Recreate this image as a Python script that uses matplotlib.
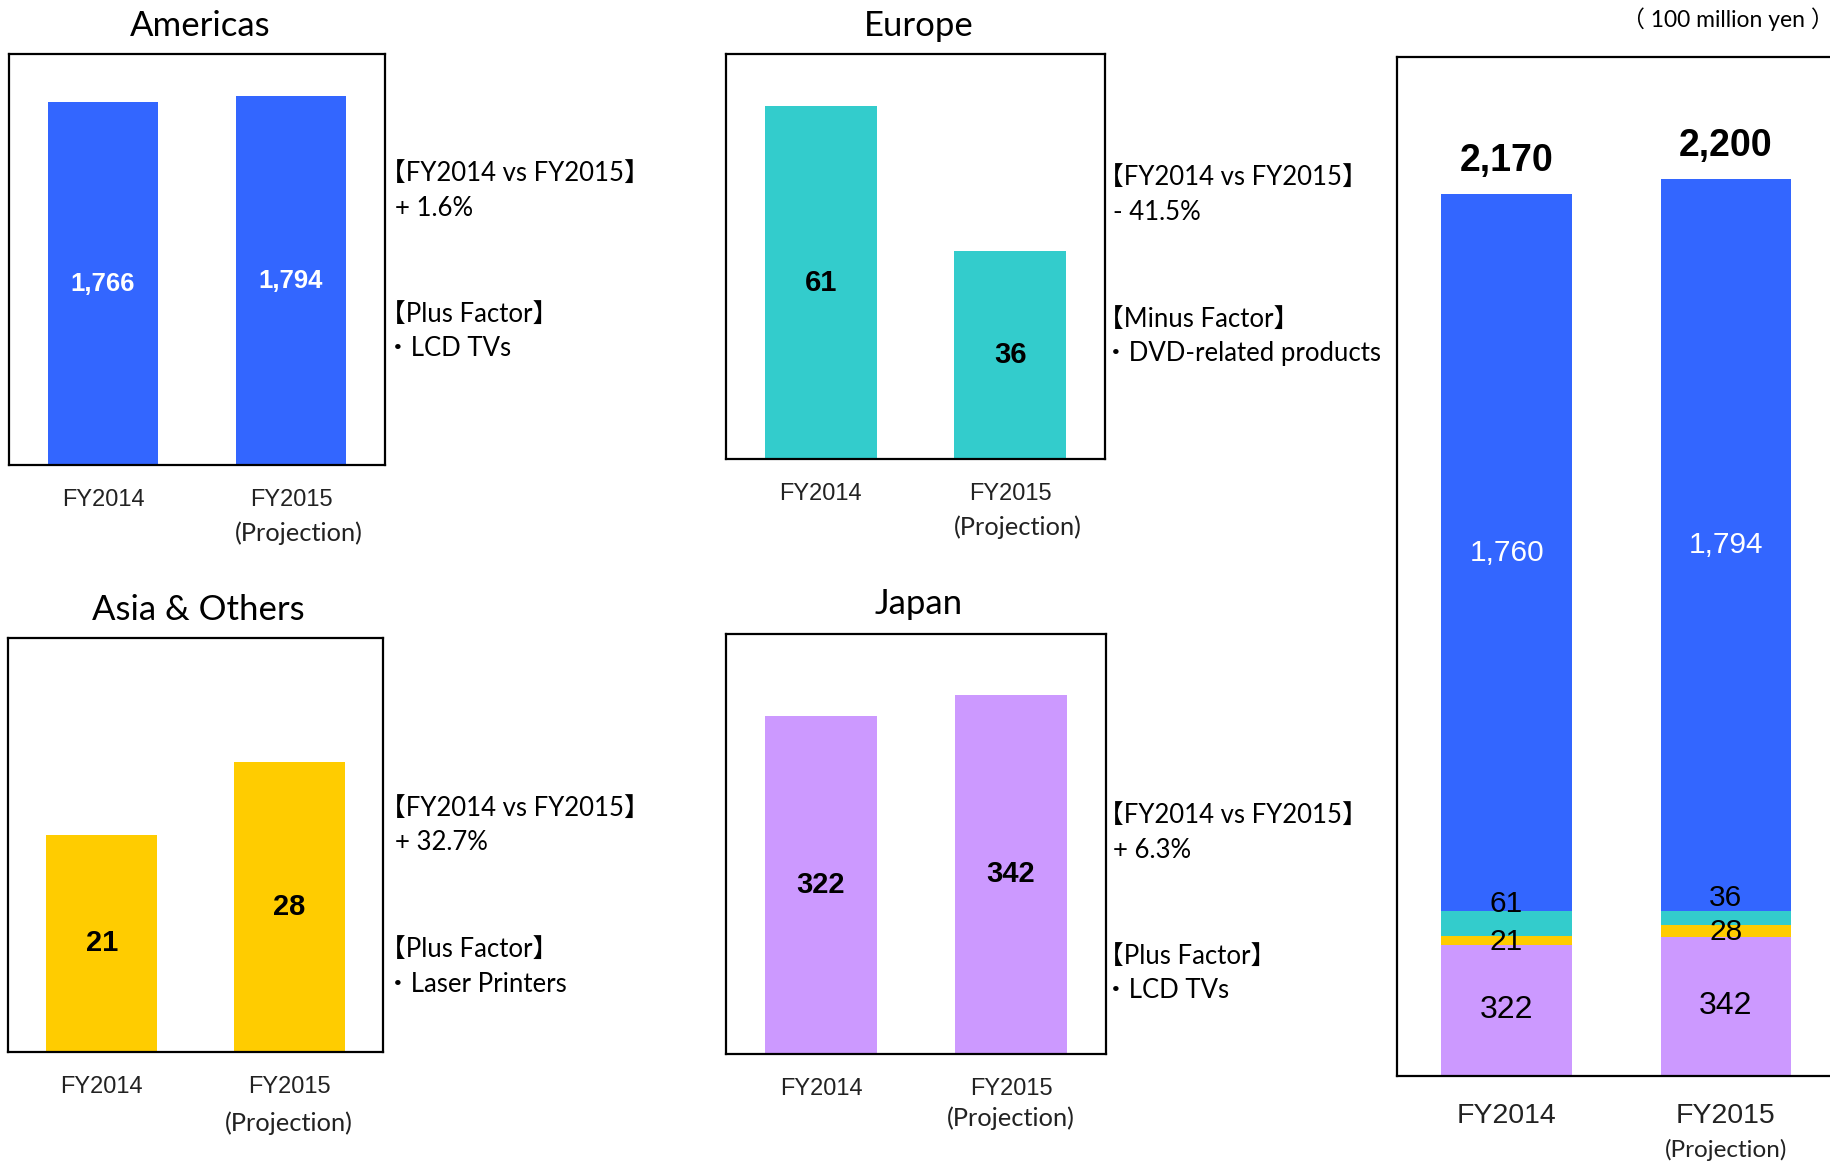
import matplotlib

matplotlib.use("Agg")
import matplotlib.pyplot as plt
from matplotlib.transforms import blended_transform_factory

# Sales by region, 100 million yen
years = ["FY2014", "FY2015"]
americas = [1766, 1794]
europe = [61, 36]
asia = [21, 28]
japan = [322, 342]

# stacked total chart (Americas shown as 1,760 there)
stack_americas = [1760, 1794]
stack_europe = [61, 36]
stack_asia = [21, 28]
stack_japan = [322, 342]
totals = [2170, 2200]

notes = {
    "Americas": ["【FY2014 vs FY2015】", "+ 1.6%", "【Plus Factor】", "・LCD TVs"],
    "Europe": ["【FY2014 vs FY2015】", "- 41.5%", "【Minus Factor】", "・DVD-related products"],
    "Asia & Others": ["【FY2014 vs FY2015】", "+ 32.7%", "【Plus Factor】", "・Laser Printers"],
    "Japan": ["【FY2014 vs FY2015】", "+ 6.3%", "【Plus Factor】", "・LCD TVs"],
}

BLUE = "#3366FF"
TEAL = "#33CCCC"
YELLOW = "#FFCC00"
PURPLE = "#CC99FF"

SANS = ["Lato", "Noto Sans CJK JP", "DejaVu Sans"]
ARIAL = ["Liberation Sans", "DejaVu Sans"]

W, H = 1830, 1163
fig = plt.figure(figsize=(W / 100, H / 100), dpi=100)


def px_axes(x0, y0, x1, y1):
    return fig.add_axes([x0 / W, 1 - y1 / H, (x1 - x0) / W, (y1 - y0) / H])


def fig_text(x, y, s, **kw):
    fig.text(x / W, 1 - y / H, s, **kw)


def frame(ax):
    ax.set_xticks([])
    ax.set_yticks([])
    for sp in ax.spines.values():
        sp.set_linewidth(1.6)
        sp.set_color("black")


def year_labels(ax, y_year, y_proj, year_size=17, proj_size=18.3, proj_dx=0.0):
    tr = blended_transform_factory(ax.transData, fig.transFigure)
    for i, yr in enumerate(years):
        ax.text(i, 1 - y_year / H, yr, transform=tr, ha="center", va="center",
                fontsize=year_size, family=ARIAL, color="#222222")
    ax.text(1 + proj_dx, 1 - y_proj / H, "(Projection)", transform=tr, ha="center",
            va="center", fontsize=proj_size, family=SANS, color="#222222")


def region_panel(box, values, ymax, color, title, title_y, label_color, label_size,
                 y_year, y_proj, proj_dx, note_x, note_ys):
    x0, y0, x1, y1 = box
    ax = px_axes(x0, y0, x1, y1)
    ax.bar(range(len(values)), values, width=0.59, color=color)
    for i, v in enumerate(values):
        ax.text(i, v / 2, f"{v:,}", ha="center", va="center", fontsize=label_size,
                fontweight="bold", family=ARIAL, color=label_color)
    ax.set_xlim(-0.5, 1.5)
    ax.set_ylim(0, ymax)
    frame(ax)
    fig_text((x0 + x1) / 2 + 3, title_y, title, ha="center", va="center",
             fontsize=25, family=SANS)
    year_labels(ax, y_year, y_proj, proj_dx=proj_dx)
    # bracket glyphs carry left padding, so those lines start further left
    for s, y in zip(notes[title], note_ys):
        if s.startswith("【"):
            dx = -13
        elif s.startswith("・"):
            dx = -8
        else:
            dx = 2
        fig_text(note_x + dx, y, s, ha="left", va="center", fontsize=18.5,
                 family=SANS)
    return ax


region_panel((9, 54, 385, 465), americas, 2000, BLUE, "Americas", 26, "white", 18.5,
             500, 533, 0.04, 393, [173, 208, 314, 349])
region_panel((726, 54, 1105, 459), europe, 70, TEAL, "Europe", 26, "black", 21,
             494, 527, 0.04, 1111, [177, 212, 319, 354])
region_panel((8, 638, 383, 1052), asia, 40, YELLOW, "Asia & Others", 610, "black", 21,
             1087, 1123, 0.0, 393, [808, 843, 949, 984])
region_panel((726, 634, 1106, 1054), japan, 400, PURPLE, "Japan", 604, "black", 21,
             1089, 1118, 0.0, 1111, [815, 850, 956, 991])

# stacked total, right edge runs off the page
ax = px_axes(1397, 57, 1905, 1076)
x = range(len(years))
bottom = [0, 0]
segments = [
    (stack_japan, PURPLE, "black", 0, 23),
    (stack_asia, YELLOW, "black", -1, 21.5),
    (stack_europe, TEAL, "black", 14, 21.5),
    (stack_americas, BLUE, "white", 0, 21.5),
]
for vals, color, tcolor, dy, size in segments:
    ax.bar(x, vals, bottom=bottom, width=0.594, color=color)
    for i, v in enumerate(vals):
        ax.annotate(f"{v:,}", (i, bottom[i] + v / 2), xytext=(0, dy),
                    textcoords="offset points", ha="center", va="center",
                    fontsize=size, family=ARIAL, color=tcolor)
    bottom = [b + v for b, v in zip(bottom, vals)]
for i, t in enumerate(totals):
    ax.annotate(f"{t:,}", (i, bottom[i]), xytext=(0, 24), textcoords="offset points",
                ha="center", va="center", fontsize=27, fontweight="bold",
                family=ARIAL, color="black")
ax.set_xlim(-0.5, 1.818)
ax.set_ylim(0, 2500)
frame(ax)
year_labels(ax, 1116, 1150, year_size=20.5, proj_size=17.5)

fig_text(1622, 19, "（ 100 million yen ）", ha="left", va="center", fontsize=16.5,
         family=SANS)

fig.savefig("out.png", dpi=100)
